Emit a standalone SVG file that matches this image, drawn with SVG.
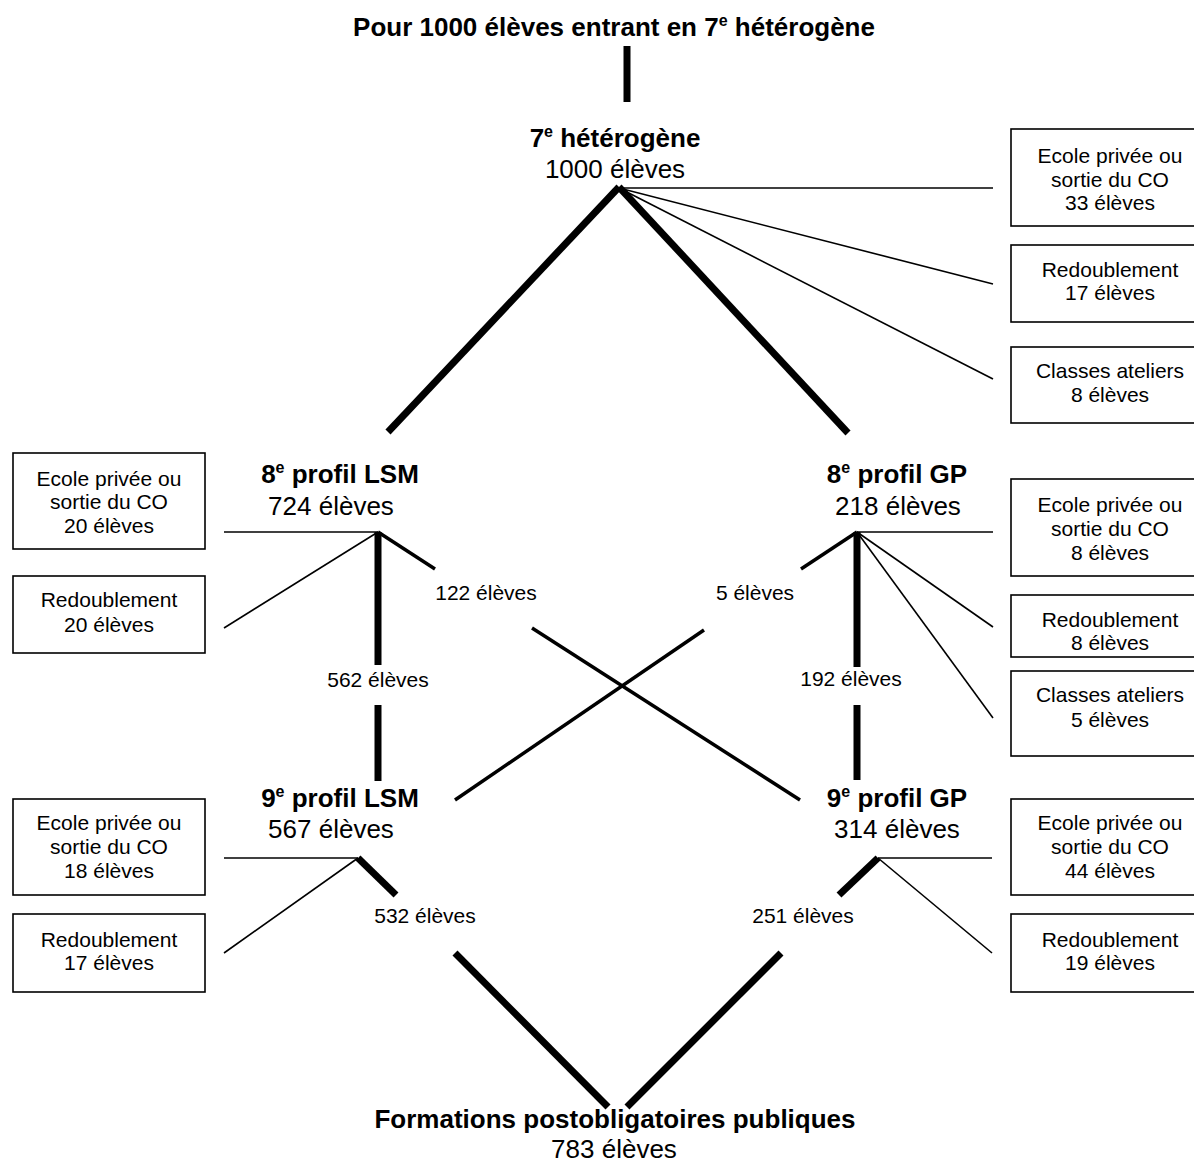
<svg xmlns="http://www.w3.org/2000/svg" width="1194" height="1171" viewBox="0 0 1194 1171">
<style>
text{font-family:"Liberation Sans",Arial,sans-serif;fill:#000}
.h{font-size:26px;font-weight:bold;text-anchor:middle}
.n{font-size:26px;text-anchor:middle}
.s{font-size:21px;text-anchor:middle}
.box{fill:#fff;stroke:#000;stroke-width:1.6}
.thick{stroke:#000;stroke-width:7;fill:none}
.med{stroke:#000;stroke-width:3.5;fill:none}
.thin{stroke:#000;stroke-width:1.6;fill:none}
</style>
<rect width="1194" height="1171" fill="#fff"/>
<g id="connectors">
<line class="thick" x1="627" y1="46" x2="627" y2="102"/>
<line class="thick" x1="619" y1="187" x2="388" y2="432"/>
<line class="thick" x1="619" y1="187" x2="848" y2="433"/>
<line class="thin" x1="619" y1="188" x2="993" y2="188"/>
<line class="thin" x1="619" y1="188" x2="993" y2="284"/>
<line class="thin" x1="619" y1="188" x2="993" y2="379"/>
<line class="thin" x1="224" y1="532" x2="378" y2="532"/>
<line class="thin" x1="378" y1="532" x2="224" y2="628"/>
<line class="thick" x1="378" y1="532" x2="378" y2="665"/>
<line class="thick" x1="378" y1="705" x2="378" y2="781"/>
<line class="med" x1="378" y1="532" x2="435" y2="569"/>
<line class="med" x1="532" y1="628" x2="800" y2="800"/>
<line class="thin" x1="857" y1="532" x2="993" y2="532"/>
<line class="thin" x1="857" y1="532" x2="993" y2="627"/>
<line class="thin" x1="857" y1="532" x2="993" y2="718"/>
<line class="thick" x1="857" y1="532" x2="857" y2="667"/>
<line class="thick" x1="857" y1="705" x2="857" y2="780"/>
<line class="med" x1="857" y1="532" x2="801" y2="569"/>
<line class="med" x1="704" y1="630" x2="455" y2="800"/>
<line class="thin" x1="224" y1="858" x2="358" y2="858"/>
<line class="thin" x1="358" y1="858" x2="224" y2="953"/>
<line class="thick" x1="358" y1="858" x2="396" y2="895"/>
<line class="thick" x1="455" y1="953" x2="608" y2="1107"/>
<line class="thin" x1="878" y1="858" x2="992" y2="858"/>
<line class="thin" x1="878" y1="858" x2="992" y2="953"/>
<line class="thick" x1="878" y1="858" x2="839" y2="895"/>
<line class="thick" x1="781" y1="953" x2="627" y2="1107"/>
</g>
<g id="edge-labels">
<text class="s" x="486" y="600">122 élèves</text>
<text class="s" x="755" y="600">5 élèves</text>
<text class="s" x="378" y="687">562 élèves</text>
<text class="s" x="851" y="686">192 élèves</text>
<text class="s" x="425" y="923">532 élèves</text>
<text class="s" x="803" y="923">251 élèves</text>
</g>
<g id="title">
<text class="h" x="614" y="36">Pour 1000 élèves entrant en 7<tspan font-size="16" dy="-10">e</tspan><tspan dy="10"> hétérogène</tspan></text>
</g>
<g id="n7">
<text class="h" x="615" y="147">7<tspan font-size="16" dy="-10">e</tspan><tspan dy="10"> hétérogène</tspan></text>
<text class="n" x="615" y="178">1000 élèves</text>
</g>
<g id="n8lsm">
<text class="h" x="340" y="483">8<tspan font-size="16" dy="-10">e</tspan><tspan dy="10"> profil LSM</tspan></text>
<text class="n" x="331" y="515">724 élèves</text>
</g>
<g id="n8gp">
<text class="h" x="897" y="483">8<tspan font-size="16" dy="-10">e</tspan><tspan dy="10"> profil GP</tspan></text>
<text class="n" x="898" y="515">218 élèves</text>
</g>
<g id="n9lsm">
<text class="h" x="340" y="807">9<tspan font-size="16" dy="-10">e</tspan><tspan dy="10"> profil LSM</tspan></text>
<text class="n" x="331" y="838">567 élèves</text>
</g>
<g id="n9gp">
<text class="h" x="897" y="807">9<tspan font-size="16" dy="-10">e</tspan><tspan dy="10"> profil GP</tspan></text>
<text class="n" x="897" y="838">314 élèves</text>
</g>
<g id="nfinal">
<text class="h" x="615" y="1128">Formations postobligatoires publiques</text>
<text class="n" x="614" y="1158">783 élèves</text>
</g>
<g id="b7-ecole">
<rect class="box" x="1011" y="129" width="197" height="97"/>
<text class="s" x="1110" y="163">Ecole privée ou</text>
<text class="s" x="1110" y="187">sortie du CO</text>
<text class="s" x="1110" y="210">33 élèves</text>
</g>
<g id="b7-redoub">
<rect class="box" x="1011" y="245" width="197" height="77"/>
<text class="s" x="1110" y="277">Redoublement</text>
<text class="s" x="1110" y="300">17 élèves</text>
</g>
<g id="b7-ateliers">
<rect class="box" x="1011" y="347" width="197" height="76"/>
<text class="s" x="1110" y="378">Classes ateliers</text>
<text class="s" x="1110" y="402">8 élèves</text>
</g>
<g id="b8l-ecole">
<rect class="box" x="13" y="453" width="192" height="96"/>
<text class="s" x="109" y="486">Ecole privée ou</text>
<text class="s" x="109" y="509">sortie du CO</text>
<text class="s" x="109" y="533">20 élèves</text>
</g>
<g id="b8l-redoub">
<rect class="box" x="13" y="576" width="192" height="77"/>
<text class="s" x="109" y="607">Redoublement</text>
<text class="s" x="109" y="632">20 élèves</text>
</g>
<g id="b8g-ecole">
<rect class="box" x="1011" y="479" width="197" height="97"/>
<text class="s" x="1110" y="512">Ecole privée ou</text>
<text class="s" x="1110" y="536">sortie du CO</text>
<text class="s" x="1110" y="560">8 élèves</text>
</g>
<g id="b8g-redoub">
<rect class="box" x="1011" y="595" width="197" height="62"/>
<text class="s" x="1110" y="627">Redoublement</text>
<text class="s" x="1110" y="650">8 élèves</text>
</g>
<g id="b8g-ateliers">
<rect class="box" x="1011" y="671" width="197" height="85"/>
<text class="s" x="1110" y="702">Classes ateliers</text>
<text class="s" x="1110" y="727">5 élèves</text>
</g>
<g id="b9l-ecole">
<rect class="box" x="13" y="799" width="192" height="96"/>
<text class="s" x="109" y="830">Ecole privée ou</text>
<text class="s" x="109" y="854">sortie du CO</text>
<text class="s" x="109" y="878">18 élèves</text>
</g>
<g id="b9l-redoub">
<rect class="box" x="13" y="914" width="192" height="78"/>
<text class="s" x="109" y="947">Redoublement</text>
<text class="s" x="109" y="970">17 élèves</text>
</g>
<g id="b9g-ecole">
<rect class="box" x="1011" y="799" width="197" height="96"/>
<text class="s" x="1110" y="830">Ecole privée ou</text>
<text class="s" x="1110" y="854">sortie du CO</text>
<text class="s" x="1110" y="878">44 élèves</text>
</g>
<g id="b9g-redoub">
<rect class="box" x="1011" y="914" width="197" height="78"/>
<text class="s" x="1110" y="947">Redoublement</text>
<text class="s" x="1110" y="970">19 élèves</text>
</g>
</svg>
